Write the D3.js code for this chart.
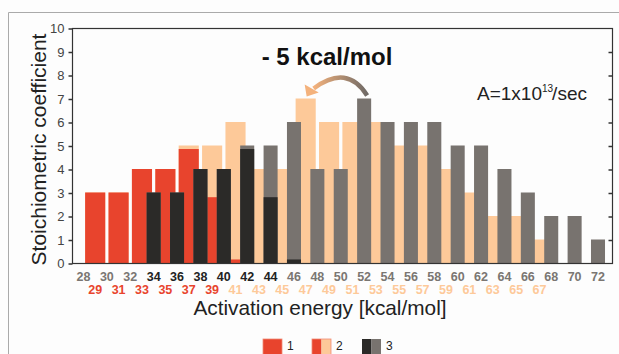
<!DOCTYPE html>
<html>
<head>
<meta charset="utf-8">
<script src="https://cdn.jsdelivr.net/npm/d3@7"></script>
<style>
  body { margin: 0; background: #fdfdfd; }
  svg { display: block; font-family: "Liberation Sans", Arial, sans-serif; }
</style>
</head>
<body>
<svg id="chart"></svg>
<script>
// even energies: black / gray bars
var evenEnergy = [28, 30, 32, 34, 36, 38, 40, 42, 44, 46, 48, 50, 52, 54, 56, 58, 60, 62, 64, 66, 68, 70, 72];
var evenTotal  = [0, 0, 0, 3, 3, 4, 4, 5, 5, 6, 4, 4, 7, 6, 6, 6, 5, 5, 4, 3, 2, 2, 1];
var evenDark   = [0, 0, 0, 3, 3, 4, 4, 4.85, 2.8, 0.15, 0, 0, 0, 0, 0, 0, 0, 0, 0, 0, 0, 0, 0];

// odd energies: red / peach bars (shifted by -5 kcal/mol)
var oddEnergy = [29, 31, 33, 35, 37, 39, 41, 43, 45, 47, 49, 51, 53, 55, 57, 59, 61, 63, 65, 67];
var oddTotal  = [3, 3, 4, 4, 5, 5, 6, 4, 4, 7, 6, 6, 6, 5, 5, 4, 3, 2, 2, 1];
var oddDark   = [3, 3, 4, 4, 4.85, 2.8, 0.15, 0, 0, 0, 0, 0, 0, 0, 0, 0, 0, 0, 0, 0];

var yTicks = [0, 1, 2, 3, 4, 5, 6, 7, 8, 9, 10];
var legendLabels = ["1", "2", "3"];

var col = {red: "#e8442d", peach: "#fdc999", black: "#2b2a28", gray: "#78736f"};

var W = 619, H = 354;
var plot = {left: 72, right: 612, top: 28, bottom: 263};

var svg = d3.select("#chart").attr("width", W).attr("height", H);

// outer frame
svg.append("path")
  .attr("d", "M8.5," + H + "V12.5H" + W)
  .attr("fill", "none")
  .attr("stroke", "#aaa")
  .attr("stroke-width", 1);

var x = d3.scaleLinear().domain([28, 72]).range([83.5, 598]);
var y = d3.scaleLinear().domain([0, 10]).range([plot.bottom, plot.top]);
var step = x(30) - x(28);
var oddW = step * 0.86, evenW = step * 0.6;

var odd = oddEnergy.map(function(e, i) { return {e: e, t: oddTotal[i], d: oddDark[i]}; });
var even = evenEnergy.map(function(e, i) { return {e: e, t: evenTotal[i], d: evenDark[i]}; });

var bars = svg.append("g");

// odd bars first, even bars drawn over them
bars.selectAll(".oddT").data(odd).enter().append("rect")
  .attr("x", function(d) { return x(d.e) - oddW / 2; })
  .attr("y", function(d) { return y(d.t); })
  .attr("width", oddW)
  .attr("height", function(d) { return y(0) - y(d.t); })
  .attr("fill", col.peach);
bars.selectAll(".oddD").data(odd.filter(function(d) { return d.d > 0; })).enter().append("rect")
  .attr("x", function(d) { return x(d.e) - oddW / 2; })
  .attr("y", function(d) { return y(d.d); })
  .attr("width", oddW)
  .attr("height", function(d) { return y(0) - y(d.d); })
  .attr("fill", col.red);

bars.selectAll(".evenT").data(even).enter().append("rect")
  .attr("x", function(d) { return x(d.e) - evenW / 2; })
  .attr("y", function(d) { return y(d.t); })
  .attr("width", evenW)
  .attr("height", function(d) { return y(0) - y(d.t); })
  .attr("fill", col.gray);
bars.selectAll(".evenD").data(even.filter(function(d) { return d.d > 0; })).enter().append("rect")
  .attr("x", function(d) { return x(d.e) - evenW / 2; })
  .attr("y", function(d) { return y(d.d); })
  .attr("width", evenW)
  .attr("height", function(d) { return y(0) - y(d.d); })
  .attr("fill", col.black);

// axes frame
svg.append("rect")
  .attr("x", plot.left + 0.5).attr("y", plot.top + 0.5)
  .attr("width", plot.right - plot.left).attr("height", plot.bottom - plot.top)
  .attr("fill", "none").attr("stroke", "#333").attr("stroke-width", 1.2);

var yAxis = svg.append("g")
  .attr("transform", "translate(" + (plot.left + 0.5) + ",0.5)")
  .call(d3.axisLeft(y).tickValues(yTicks).tickSize(4).tickPadding(4));
yAxis.select(".domain").remove();
yAxis.selectAll("line").attr("stroke", "#333").attr("stroke-width", 1.5);
yAxis.selectAll("text").attr("font-size", 13).attr("fill", "#444")
  .attr("font-family", "Liberation Sans, Arial, sans-serif");

var yAxisR = svg.append("g")
  .attr("transform", "translate(" + (plot.right + 0.5) + ",0.5)")
  .call(d3.axisLeft(y).tickValues(yTicks.slice(1, 10)).tickSize(4).tickFormat(""));
yAxisR.select(".domain").remove();
yAxisR.selectAll("line").attr("stroke", "#333").attr("stroke-width", 1.5);

// x labels
svg.append("g").selectAll("text").data(even).enter().append("text")
  .attr("x", function(d) { return x(d.e); })
  .attr("y", 281)
  .attr("text-anchor", "middle")
  .attr("font-size", 12.5).attr("font-weight", "bold")
  .attr("fill", function(d) { return d.t > 0 && d.d / d.t > 0.5 ? "#222" : "#7a7672"; })
  .text(function(d) { return d.e; });
svg.append("g").selectAll("text").data(odd).enter().append("text")
  .attr("x", function(d) { return x(d.e); })
  .attr("y", 294)
  .attr("text-anchor", "middle")
  .attr("font-size", 12.5).attr("font-weight", "bold")
  .attr("fill", function(d) { return d.d / d.t > 0.5 ? col.red : col.peach; })
  .text(function(d) { return d.e; });

// axis titles
svg.append("text")
  .attr("x", 320).attr("y", 315)
  .attr("text-anchor", "middle")
  .attr("font-size", 20.8).attr("fill", "#222")
  .text("Activation energy [kcal/mol]");
svg.append("text")
  .attr("transform", "translate(46," + ((plot.top + plot.bottom) / 2 + 4) + ") rotate(-90)")
  .attr("text-anchor", "middle")
  .attr("font-size", 21).attr("fill", "#222")
  .text("Stoichiometric coefficient");

// annotation
svg.append("text")
  .attr("x", 327).attr("y", 65)
  .attr("text-anchor", "middle")
  .attr("font-size", 24).attr("font-weight", "bold").attr("fill", "#111")
  .text("- 5 kcal/mol");

var A = svg.append("text")
  .attr("x", 477).attr("y", 100)
  .attr("font-size", 19).attr("fill", "#222");
A.append("tspan").text("A=1x10");
A.append("tspan").attr("font-size", 10).attr("dx", 0).attr("dy", -8).text("13");
A.append("tspan").attr("dx", -1).attr("dy", 8).text("/sec");

// curved arrow from 52 to 47
var grad = svg.append("defs").append("linearGradient")
  .attr("id", "arrowGrad").attr("x1", "0%").attr("x2", "100%");
grad.append("stop").attr("offset", "0%").attr("stop-color", "#f4b27c");
grad.append("stop").attr("offset", "100%").attr("stop-color", "#6f6a66");

var x0 = x(52) + 3, y0 = y(7) - 3, x1 = x(47) + 8, y1 = y(7) - 10;
svg.append("path")
  .attr("d", "M" + x0 + "," + y0 + "Q" + (x0 - 20) + "," + (y0 - 32) + " " + x1 + "," + y1)
  .attr("fill", "none")
  .attr("stroke", "url(#arrowGrad)")
  .attr("stroke-width", 4.5);
svg.append("path")
  .attr("d", "M" + (x(47) + 1) + "," + (y(7) - 2) + "L" + (x(47) - 1) + "," + (y(7) - 14) + "L" + (x(47) + 13) + "," + (y(7) - 6) + "Z")
  .attr("fill", "#f4b27c");

// legend
var leg = svg.append("g");
var lx = [263, 312, 362];
leg.append("rect").attr("x", lx[0]).attr("y", 339).attr("width", 19).attr("height", 19)
  .attr("fill", col.red).attr("stroke", "#f08a74").attr("stroke-width", 0.8);
leg.append("rect").attr("x", lx[1]).attr("y", 339).attr("width", 9.5).attr("height", 19).attr("fill", col.red);
leg.append("rect").attr("x", lx[1] + 9.5).attr("y", 339).attr("width", 9.5).attr("height", 19).attr("fill", col.peach);
leg.append("rect").attr("x", lx[1]).attr("y", 339).attr("width", 19).attr("height", 19)
  .attr("fill", "none").attr("stroke", "#f08a74").attr("stroke-width", 0.8);
leg.append("rect").attr("x", lx[2]).attr("y", 339).attr("width", 9.5).attr("height", 19).attr("fill", col.black);
leg.append("rect").attr("x", lx[2] + 9.5).attr("y", 339).attr("width", 9.5).attr("height", 19).attr("fill", col.gray);
leg.selectAll("text").data(legendLabels).enter().append("text")
  .attr("x", function(d, i) { return lx[i] + 24; })
  .attr("y", 350)
  .attr("font-size", 12).attr("fill", "#222")
  .text(function(d) { return d; });
</script>
</body>
</html>
